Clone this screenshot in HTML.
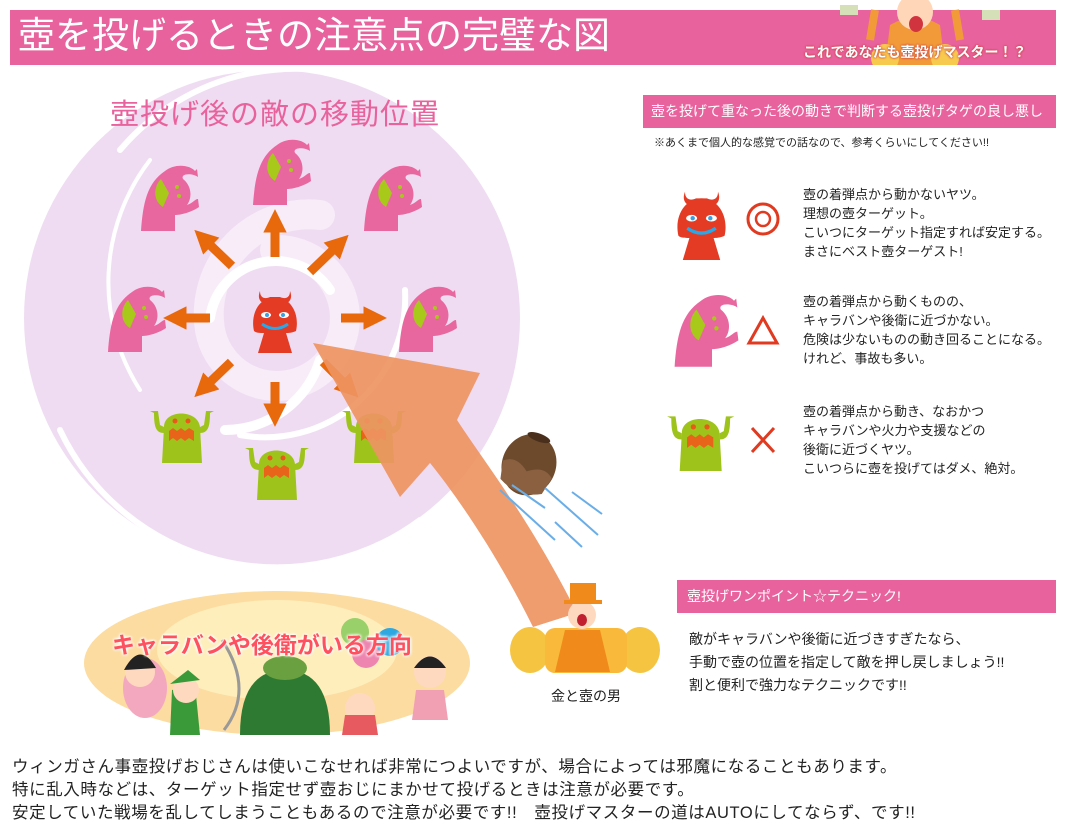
<!DOCTYPE html>
<html><head><meta charset="utf-8">
<style>
body{margin:0;width:1066px;height:840px;background:#fff;position:relative;overflow:hidden;font-family:"Liberation Sans","Noto Sans CJK JP",sans-serif;color:#222}
.a{position:absolute;white-space:nowrap}
.hb{background:#e8629d;color:#fff}
.t{font-size:13px;line-height:19px}
</style></head><body>
<div class="a hb" style="left:10px;top:10px;width:1046px;height:55px"></div>
<div class="a" style="left:18px;top:11px;font-size:37px;color:#fff;line-height:50px">壺を投げるときの注意点の完璧な図</div>
<svg class="a" style="left:790px;top:0" width="266" height="65">
<path d="M95 65 L100 25 Q125 10 150 25 L155 65Z" fill="#f29a3a"/><circle cx="125" cy="12" r="18" fill="#ffd6b8"/><ellipse cx="126" cy="24" rx="7" ry="8" fill="#d2343f"/>
<path d="M80 40 L85 10" stroke="#f29a3a" stroke-width="8"/><path d="M170 40 L165 10" stroke="#f29a3a" stroke-width="8"/>
<circle cx="95" cy="58" r="14" fill="#f7c94d"/><circle cx="155" cy="58" r="14" fill="#f7c94d"/>
<rect x="50" y="5" width="18" height="10" fill="#d6e0b8"/><rect x="192" y="10" width="18" height="10" fill="#d6e0b8"/></svg>
<div class="a" style="left:803px;top:42px;font-size:14px;color:#fff;font-weight:bold;text-shadow:0 0 2px #c44,0 0 2px #c44">これであなたも壺投げマスター！？</div>

<svg class="a" style="left:0;top:0" width="1066" height="840">
<defs>
<g id="pk"><path d="M6 68 C8 40 12 20 30 8 C40 0 55 2 60 8 L62 6 L63 14 C58 10 45 10 48 16 C56 22 58 34 52 42 C58 40 60 36 63 36 L64 44 C55 50 45 52 40 52 L40 68Z" fill="#e8679f"/><ellipse cx="36" cy="28" rx="16" ry="18" fill="#e8679f"/><path d="M26 16 C18 24 18 38 28 44 L34 30Z" fill="#a8c81a"/><circle cx="42" cy="24" r="2" fill="#a8c81a"/><circle cx="44" cy="33" r="2" fill="#a8c81a"/></g>
<g id="gr"><path d="M14 60 L16 24 C16 6 50 6 52 24 L54 60Z" fill="#9ec41c"/><path d="M16 30 C8 30 6 24 6 10 L2 8 L10 8 L12 22 L16 24Z M52 30 C60 30 62 24 62 10 L66 8 L58 8 L56 22 L52 24Z" fill="#9ec41c"/><circle cx="27" cy="18" r="2.5" fill="#e85a1a"/><circle cx="40" cy="18" r="2.5" fill="#e85a1a"/><path d="M21 28 L25 25 L29 28 L33 25 L37 28 L41 25 L46 28 L46 38 L41 35 L37 38 L33 35 L29 38 L25 35 L21 38Z" fill="#e8641a"/></g>
<g id="rd"><path d="M10 8 C6 18 14 22 18 20 L32 20 C36 22 44 18 40 8 C40 16 34 16 30 14 L20 14 C16 16 10 16 10 8Z" fill="#e43b24"/><path d="M4 48 C0 30 10 14 25 14 C40 14 50 30 46 48 C42 50 38 50 36 50 L42 70 L8 70 L14 50 C10 50 6 50 4 48Z" fill="#e43b24"/><ellipse cx="16" cy="32" rx="5" ry="3" fill="#fff"/><ellipse cx="34" cy="32" rx="5" ry="3" fill="#fff"/><circle cx="17" cy="32" r="2" fill="#3aa0e0"/><circle cx="33" cy="32" r="2" fill="#3aa0e0"/><path d="M12 41 Q25 50 38 41" stroke="#28a8e8" stroke-width="3" fill="none"/></g>
<marker id="m" markerWidth="2.6" markerHeight="2.6" refX="0.5" refY="1.3" orient="auto"><path d="M0 0 L2.6 1.3 L0 2.6Z" fill="#e8690c"/></marker>
</defs>
<circle cx="272" cy="318" r="248" fill="#efdcf2"/>
<g fill="none" stroke="#fff" stroke-linecap="round">
<path d="M275 250 A68 68 0 1 1 210 330 A100 100 0 0 1 320 215" stroke="#f7ecf8" stroke-width="30"/>
<path d="M210 318 A66 66 0 0 1 330 290" stroke-width="10"/>
<path d="M320 360 A100 100 0 0 1 225 430" stroke-width="10"/>
<path d="M240 435 A140 140 0 0 0 405 290" stroke-width="6"/>
<path d="M120 150 A230 230 0 0 1 440 120" stroke-width="6"/>
<path d="M60 430 A240 240 0 0 0 420 520" stroke-width="6"/>
<path d="M150 160 A200 200 0 0 0 140 390" stroke-width="4"/>
</g>
<g stroke="#e8690c" stroke-width="9" marker-end="url(#m)">
<line x1="275" y1="257" x2="275" y2="228"/>
<line x1="310" y1="272" x2="335" y2="248"/>
<line x1="341" y1="318" x2="368" y2="318"/>
<line x1="323" y1="362" x2="345" y2="384"/>
<line x1="275" y1="382" x2="275" y2="408"/>
<line x1="231" y1="362" x2="208" y2="384"/>
<line x1="210" y1="318" x2="182" y2="318"/>
<line x1="232" y1="266" x2="208" y2="243"/>
</g>
<use href="#pk" x="247" y="137"/><use href="#pk" x="135" y="163"/><use href="#pk" x="358" y="163"/><use href="#pk" x="102" y="284"/><use href="#pk" x="393" y="284"/>
<use href="#rd" x="250" y="283"/>
<use href="#gr" x="148" y="403"/><use href="#gr" x="243" y="440"/><use href="#gr" x="340" y="403"/>
<path d="M313 343 L480 373 L457 420 C490 470 530 520 577 613 L533 627 C500 560 460 500 430 463 L400 497Z" fill="#ee9462" opacity="0.92"/>
<g transform="rotate(20 530 462)"><ellipse cx="530" cy="465" rx="27" ry="31" fill="#6e4a2c"/><ellipse cx="530" cy="436" rx="12" ry="4" fill="#4a301c"/><path d="M504 470 Q515 460 530 472 Q545 460 556 470 L552 488 Q530 500 508 488Z" fill="#8a6040"/></g>
<g stroke="#6aaee8" stroke-width="2"><line x1="500" y1="490" x2="555" y2="540"/><line x1="512" y1="485" x2="545" y2="508"/><line x1="545" y1="488" x2="598" y2="535"/><line x1="555" y1="522" x2="582" y2="547"/><line x1="572" y1="492" x2="602" y2="514"/></g>
<ellipse cx="277" cy="663" rx="193" ry="72" fill="#fcdca0"/>
<ellipse cx="277" cy="650" rx="120" ry="50" fill="#fdeebb"/>
<ellipse cx="145" cy="688" rx="22" ry="30" fill="#f4a8c0"/><circle cx="140" cy="672" r="15" fill="#ffd9bf"/><path d="M124 670 Q140 640 156 668" fill="#222"/>
<path d="M170 735 L172 690 L195 685 L200 735Z" fill="#3a9a3a"/><circle cx="186" cy="690" r="13" fill="#ffd9bf"/><path d="M170 684 L200 680 L188 670Z" fill="#3a9a3a"/>
<path d="M222 640 Q255 690 224 730" stroke="#999" stroke-width="3" fill="none"/>
<path d="M240 735 Q240 670 285 670 Q330 670 330 735Z" fill="#2e7a32"/><ellipse cx="285" cy="668" rx="22" ry="12" fill="#6aa040"/>
<circle cx="355" cy="632" r="14" fill="#9ad06a"/><circle cx="366" cy="654" r="14" fill="#ee85b0"/><circle cx="390" cy="642" r="14" fill="#2ea8e0"/>
<circle cx="360" cy="708" r="15" fill="#ffd9bf"/><path d="M345 715 L375 715 L378 735 L342 735Z" fill="#e65a60"/>
<circle cx="430" cy="672" r="16" fill="#ffd9bf"/><path d="M414 668 Q430 645 446 668" fill="#222"/><path d="M416 690 L444 690 L448 720 L412 720Z" fill="#f1a0b4"/>
<g fill="#f5c542"><ellipse cx="530" cy="650" rx="20" ry="23"/><ellipse cx="640" cy="650" rx="20" ry="23"/><rect x="545" y="628" width="82" height="45" rx="10" fill="#f9b93a"/></g>
<path d="M565 630 L600 630 L610 672 L555 672Z" fill="#f08a1a"/><circle cx="582" cy="615" r="14" fill="#ffd9bf"/><rect x="570" y="583" width="26" height="20" fill="#f08a1a"/><rect x="564" y="600" width="38" height="4" fill="#f08a1a"/>
<ellipse cx="582" cy="620" rx="5" ry="6" fill="#c02030"/>
</g>
<div class="a" style="left:110px;top:91px;font-size:29px;color:#e8639d;letter-spacing:1px">壺投げ後の敵の移動位置</div>
<div class="a" style="left:112px;top:626px;font-size:23px;color:#ff5060;font-weight:bold;text-shadow:0 0 3px #fff,0 0 3px #fff,0 0 3px #fff">キャラバンや後衛がいる方向</div>
<div class="a" style="left:551px;top:686px;font-size:14px">金と壺の男</div>

<div class="a hb" style="left:643px;top:95px;width:413px;height:33px;font-size:14px;line-height:33px;text-indent:8px">壺を投げて重なった後の動きで判断する壺投げタゲの良し悪し</div>
<div class="a" style="left:654px;top:135px;font-size:11px;line-height:16px">※あくまで個人的な感覚での話なので、参考くらいにしてください!!</div>
<svg class="a" style="left:660px;top:180px" width="130" height="300">
<g transform="translate(14 3) scale(1.1)"><use href="#rd"/></g>
<circle cx="103" cy="39" r="15" fill="none" stroke="#e03a20" stroke-width="3"/><circle cx="103" cy="39" r="7" fill="none" stroke="#e03a20" stroke-width="2.5"/>
<g transform="translate(8 112) scale(1.1)"><use href="#pk"/></g>
<path d="M103 138 L117 163 L89 163Z" fill="none" stroke="#e03a20" stroke-width="3"/>
<g transform="translate(5 228) scale(1.05)"><use href="#gr"/></g>
<path d="M92 248 L114 272 M114 248 L92 272" stroke="#e03a20" stroke-width="3"/>
</svg>
<div class="a t" style="left:803px;top:185px">壺の着弾点から動かないヤツ。<br>理想の壺ターゲット。<br>こいつにターゲット指定すれば安定する。<br>まさにベスト壺ターゲスト!</div>
<div class="a t" style="left:803px;top:292px">壺の着弾点から動くものの、<br>キャラバンや後衛に近づかない。<br>危険は少ないものの動き回ることになる。<br>けれど、事故も多い。</div>
<div class="a t" style="left:803px;top:402px">壺の着弾点から動き、なおかつ<br>キャラバンや火力や支援などの<br>後衛に近づくヤツ。<br>こいつらに壺を投げてはダメ、絶対。</div>

<div class="a hb" style="left:677px;top:580px;width:379px;height:33px;font-size:14px;line-height:33px;text-indent:10px">壺投げワンポイント☆テクニック!</div>
<div class="a" style="left:689px;top:628px;font-size:14px;line-height:23px">敵がキャラバンや後衛に近づきすぎたなら、<br>手動で壺の位置を指定して敵を押し戻しましょう!!<br>割と便利で強力なテクニックです!!</div>

<div class="a" style="left:12px;top:756px;font-size:16.5px;line-height:23px;letter-spacing:0.6px">ウィンガさん事壺投げおじさんは使いこなせれば非常につよいですが、場合によっては邪魔になることもあります。<br>特に乱入時などは、ターゲット指定せず壺おじにまかせて投げるときは注意が必要です。<br>安定していた戦場を乱してしまうこともあるので注意が必要です!!　壺投げマスターの道はAUTOにしてならず、です!!</div>
</body></html>
